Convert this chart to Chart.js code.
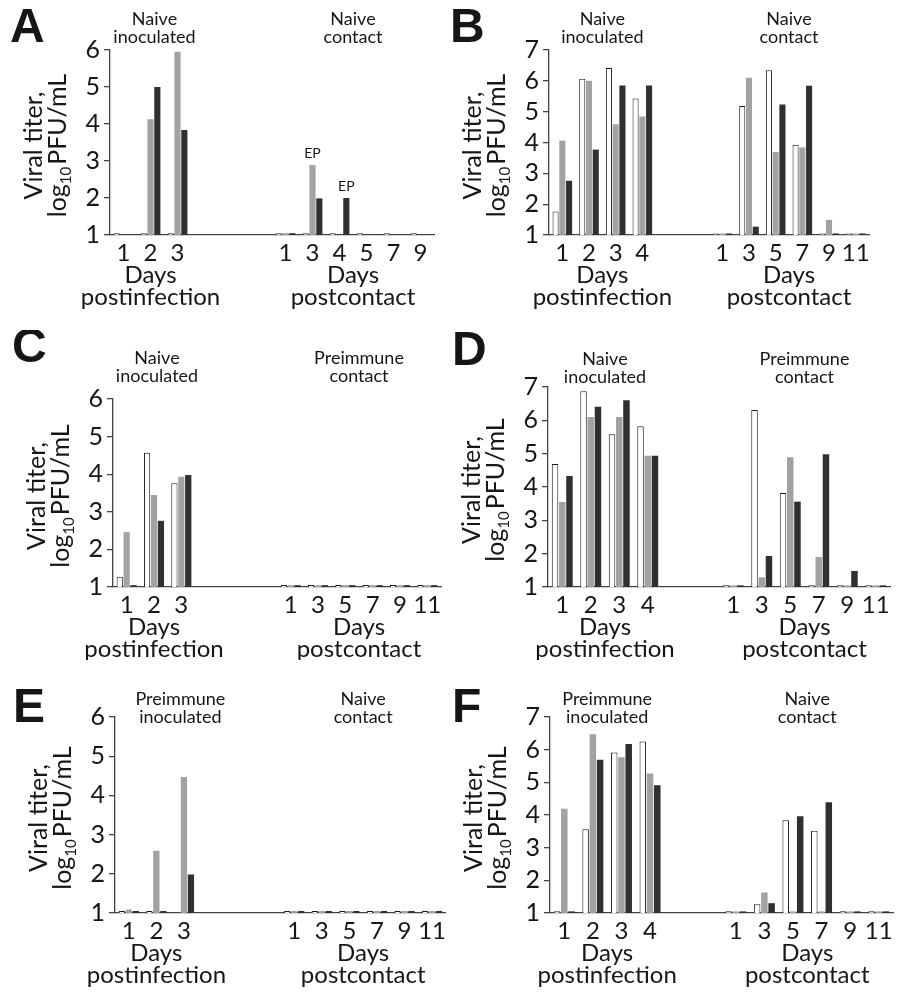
<!DOCTYPE html>
<html>
<head>
<meta charset="utf-8">
<script src="https://cdn.jsdelivr.net/npm/chart.js@4"></script>
<style>
  html, body { margin: 0; padding: 0; background: #fff; }
  #page { position: relative; width: 900px; height: 995px; overflow: hidden; }
</style>
</head>
<body>
<div id="page"></div>
<script>
// value drawn for samples below the detection limit (thin sliver on the axis)
const LOD = 1.05;

// A
const labelsA = ['1', '2', '3', '', '', '', '1', '3', '4', '5', '7', '9'];
const whiteA = [LOD, LOD, LOD, null, null, null, LOD, LOD, LOD, LOD, LOD, LOD];
const grayA  = [null, 4.13, 5.95, null, null, null, LOD, 2.89, null, null, null, null];
const darkA  = [null, 5.0, 3.84, null, null, null, LOD, 1.99, 2.0, null, null, null];
const groupsA = [['Naive', 'inoculated'], ['Naive', 'contact']];
const epA = [[1, 7], [2, 8]];   // [series, category] marked "EP"

// B
const labelsB = ['1', '2', '3', '4', '', '', '1', '3', '5', '7', '9', '11'];
const whiteB = [1.76, 6.07, 6.42, 5.43, null, null, LOD, 5.18, 6.34, 3.93, LOD, LOD];
const grayB  = [4.06, 6.0, 4.59, 4.84, null, null, LOD, 6.10, 3.69, 3.84, 1.49, LOD];
const darkB  = [2.76, 3.77, 5.85, 5.85, null, null, LOD, 1.27, 5.23, 5.84, LOD, LOD];
const groupsB = [['Naive', 'inoculated'], ['Naive', 'contact']];

// C
const labelsC = ['1', '2', '3', '', '', '', '1', '3', '5', '7', '9', '11'];
const whiteC = [1.27, 4.57, 3.76, null, null, null, LOD, LOD, LOD, LOD, LOD, LOD];
const grayC  = [2.46, 3.45, 3.93, null, null, null, LOD, LOD, LOD, LOD, LOD, LOD];
const darkC  = [LOD, 2.76, 3.98, null, null, null, LOD, LOD, LOD, LOD, LOD, LOD];
const groupsC = [['Naive', 'inoculated'], ['Preimmune', 'contact']];

// D
const labelsD = ['1', '2', '3', '4', '', '', '1', '3', '5', '7', '9', '11'];
const whiteD = [4.69, 6.87, 5.58, 5.82, null, null, LOD, 6.31, 3.82, LOD, LOD, LOD];
const grayD  = [3.55, 6.10, 6.10, 4.94, null, null, LOD, 1.29, 4.89, 1.90, LOD, LOD];
const darkD  = [4.33, 6.41, 6.60, 4.94, null, null, LOD, 1.93, 3.56, 4.98, 1.48, LOD];
const groupsD = [['Naive', 'inoculated'], ['Preimmune', 'contact']];

// E
const labelsE = ['1', '2', '3', '', '', '', '1', '3', '5', '7', '9', '11'];
const whiteE = [LOD, LOD, null, null, null, null, LOD, LOD, LOD, LOD, LOD, LOD];
const grayE  = [1.09, 2.59, 4.47, null, null, null, LOD, LOD, LOD, LOD, LOD, LOD];
const darkE  = [LOD, LOD, 1.98, null, null, null, LOD, LOD, LOD, LOD, LOD, LOD];
const groupsE = [['Preimmune', 'inoculated'], ['Naive', 'contact']];

// F
const labelsF = ['1', '2', '3', '4', '', '', '1', '3', '5', '7', '9', '11'];
const whiteF = [LOD, 3.56, 5.91, 6.25, null, null, LOD, 1.27, 3.84, 3.52, LOD, LOD];
const grayF  = [4.19, 6.47, 5.77, 5.27, null, null, LOD, 1.63, LOD, LOD, LOD, LOD];
const darkF  = [LOD, 5.69, 6.17, 4.91, null, null, LOD, 1.30, 3.96, 4.39, LOD, LOD];
const groupsF = [['Preimmune', 'inoculated'], ['Naive', 'contact']];

const FONT = 'Lato, "Open Sans", sans-serif';
const INK = '#161616';
const AXIS = '#444';

const panels = [
  { letter: 'A', labels: labelsA, white: whiteA, gray: grayA, dark: darkA, groups: groupsA, ep: epA, nInoc: 3,
    box: [0, 0, 450, 330], axisX: 110, right: 434, top: 50, bottom: 235, ymax: 6, letterAt: [10, 42], groupBase: 25, shift: 4 },
  { letter: 'B', labels: labelsB, white: whiteB, gray: grayB, dark: darkB, groups: groupsB, ep: [], nInoc: 4,
    box: [450, 0, 470, 330], axisX: 549, right: 869, top: 50, bottom: 235, ymax: 7, letterAt: [450, 42], groupBase: 25, shift: 0 },
  { letter: 'C', labels: labelsC, white: whiteC, gray: grayC, dark: darkC, groups: groupsC, ep: [], nInoc: 3,
    box: [0, 330, 450, 330], axisX: 113, right: 441, top: 399, bottom: 587, ymax: 6, letterAt: [12, 362], groupBase: 364, shift: 3 },
  { letter: 'D', labels: labelsD, white: whiteD, gray: grayD, dark: darkD, groups: groupsD, ep: [], nInoc: 4,
    box: [450, 330, 470, 330], axisX: 548, right: 890, top: 387, bottom: 587, ymax: 7, letterAt: [452, 365], groupBase: 365, shift: 0 },
  { letter: 'E', labels: labelsE, white: whiteE, gray: grayE, dark: darkE, groups: groupsE, ep: [], nInoc: 3,
    box: [0, 660, 450, 335], axisX: 115, right: 451, top: 717, bottom: 913, ymax: 6, letterAt: [13, 722], groupBase: 705, shift: 24 },
  { letter: 'F', labels: labelsF, white: whiteF, gray: grayF, dark: darkF, groups: groupsF, ep: [], nInoc: 4,
    box: [450, 660, 470, 335], axisX: 550, right: 893, top: 717, bottom: 913, ymax: 7, letterAt: [452, 722], groupBase: 705, shift: 0 }
];

function decorFor(p) {
  return {
    id: 'decor' + p.letter,
    afterDraw(chart) {
      const ctx = chart.ctx;
      const x = chart.scales.x;
      const area = chart.chartArea;
      const ox = p.box[0], oy = p.box[1];
      ctx.save();
      ctx.fillStyle = INK;
      ctx.textBaseline = 'alphabetic';

      ctx.font = 'bold 48px "Liberation Sans", Arial, sans-serif';
      ctx.textAlign = 'left';
      ctx.fillText(p.letter, p.letterAt[0] - ox, p.letterAt[1] - oy);

      // y title, two rotated lines
      const cy = (area.top + area.bottom) / 2 + 3;
      ctx.save();
      ctx.translate(area.left - 68, cy);
      ctx.rotate(-Math.PI / 2);
      ctx.font = '25px ' + FONT;
      ctx.textAlign = 'center';
      ctx.fillText('Viral titer,', 0, 0);
      ctx.restore();

      ctx.save();
      ctx.translate(area.left - 44, cy);
      ctx.rotate(-Math.PI / 2);
      const big = '25px ' + FONT, small = '15px ' + FONT;
      ctx.font = big;
      const w1 = ctx.measureText('log').width;
      const w3 = ctx.measureText('PFU/mL').width;
      ctx.font = small;
      const w2 = ctx.measureText('10').width;
      let sx = -(w1 + w2 + w3 + 2) / 2;
      ctx.textAlign = 'left';
      ctx.font = big; ctx.fillText('log', sx, 0); sx += w1;
      ctx.font = small; ctx.fillText('10', sx, 5); sx += w2 + 2;
      ctx.font = big; ctx.fillText('PFU/mL', sx, 0);
      ctx.restore();

      // group headers and x titles
      const n = p.labels.length;
      const cInoc = (x.getPixelForValue(0) + x.getPixelForValue(p.nInoc - 1)) / 2;
      const cCont = (x.getPixelForValue(6) + x.getPixelForValue(n - 1)) / 2;
      ctx.textAlign = 'center';
      ctx.font = '18px ' + FONT;
      [cInoc + p.shift, cCont].forEach((cx, i) => {
        ctx.fillText(p.groups[i][0], cx, p.groupBase - oy);
        ctx.fillText(p.groups[i][1], cx, p.groupBase - oy + 18);
      });
      ctx.font = '24px ' + FONT;
      ctx.fillText('Days', cInoc, area.bottom + 48);
      ctx.fillText('postinfection', cInoc, area.bottom + 70);
      ctx.fillText('Days', cCont, area.bottom + 48);
      ctx.fillText('postcontact', cCont, area.bottom + 70);

      ctx.font = '14px ' + FONT;
      p.ep.forEach(([ds, idx]) => {
        const bar = chart.getDatasetMeta(ds).data[idx];
        ctx.fillText('EP', bar.x, bar.y - 7);
      });
      ctx.restore();
    }
  };
}

function makePanel(p) {
  const [bl, bt, bw, bh] = p.box;
  const canvas = document.createElement('canvas');
  canvas.width = bw;
  canvas.height = bh;
  canvas.style.cssText = `position:absolute;left:${bl}px;top:${bt}px;width:${bw}px;height:${bh}px`;
  document.getElementById('page').appendChild(canvas);

  new Chart(canvas.getContext('2d'), {
    type: 'bar',
    data: {
      labels: p.labels,
      datasets: [
        { data: p.white, backgroundColor: '#ffffff', borderColor: '#1a1a1a', borderWidth: 1 },
        { data: p.gray, backgroundColor: '#a2a2a2', borderWidth: 0 },
        { data: p.dark, backgroundColor: '#303030', borderWidth: 0 }
      ]
    },
    options: {
      responsive: false,
      animation: false,
      devicePixelRatio: 1,
      layout: { padding: { left: 0, top: p.top - bt, right: bl + bw - p.right, bottom: 0 } },
      datasets: { bar: { categoryPercentage: 0.76, barPercentage: 0.9 } },
      plugins: { legend: { display: false }, tooltip: { enabled: false } },
      scales: {
        x: {
          ticks: { autoSkip: false, maxRotation: 0, padding: 4, color: INK, font: { family: FONT, size: 24 } },
          grid: { display: false, drawTicks: false },
          border: { display: true, color: AXIS, width: 1.3 },
          afterFit: s => { s.height = bt + bh - p.bottom; }
        },
        y: {
          min: 1,
          max: p.ymax,
          ticks: { stepSize: 1, autoSkip: false, padding: 4, color: INK, font: { family: FONT, size: 25 } },
          grid: { drawOnChartArea: false, drawTicks: true, tickLength: 6, color: AXIS, lineWidth: 1.3 },
          border: { display: true, color: AXIS, width: 1.3 },
          afterFit: s => { s.width = p.axisX - bl; }
        }
      }
    },
    plugins: [decorFor(p)]
  });
}

panels.forEach(makePanel);
</script>
</body>
</html>
